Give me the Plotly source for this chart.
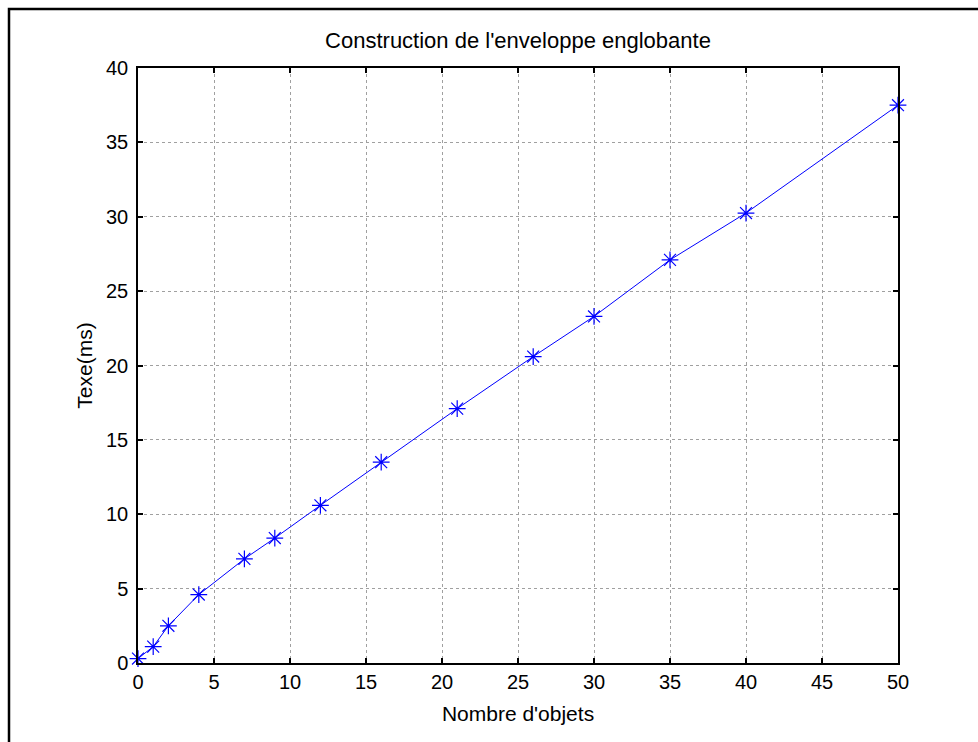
import plotly.graph_objects as go

# Nombre d'objets et temps d'exécution mesuré (ms)
nb_objets = [0, 1, 2, 4, 7, 9, 12, 16, 21, 26, 30, 35, 40, 50]
texe_ms = [0.3, 1.1, 2.5, 4.6, 7.0, 8.4, 10.6, 13.5, 17.1, 20.6, 23.3, 27.1, 30.25, 37.5]

x_ticks = [0, 5, 10, 15, 20, 25, 30, 35, 40, 45, 50]
y_ticks = [0, 5, 10, 15, 20, 25, 30, 35, 40]

FONT = "Liberation Sans, Arial, sans-serif"

fig = go.Figure()
fig.add_trace(go.Scatter(
    x=nb_objets, y=texe_ms,
    mode="lines+markers",
    line=dict(color="#0000ff", width=1),
    marker=dict(symbol="asterisk-open", size=14, color="#0000ff",
                line=dict(color="#0000ff", width=1.2)),
    cliponaxis=False,
    showlegend=False,
))

axis_common = dict(
    showline=True, linecolor="black", linewidth=1.5, mirror="allticks",
    ticks="inside", ticklen=5, tickcolor="black", tickwidth=1.5,
    showgrid=True, gridcolor="#a0a0a0", gridwidth=1, griddash="dot",
    zeroline=False,
    tickfont=dict(family=FONT, size=20, color="black"),
)

fig.update_xaxes(range=[0, 50], tickvals=x_ticks, ticklabelstandoff=0,
                 title=dict(text="Nombre d'objets", standoff=15,
                            font=dict(family=FONT, size=21, color="black")),
                 **axis_common)
fig.update_yaxes(range=[0, 40], tickvals=y_ticks, ticklabelstandoff=4,
                 title=dict(text="Texe(ms)", standoff=8,
                            font=dict(family=FONT, size=21, color="black")),
                 **axis_common)

# Cadre noir autour de la figure
fig.add_shape(type="rect", xref="paper", yref="paper",
              x0=(9 - 138) / 760, x1=1.2, y0=-0.2, y1=(663 - 9) / 595,
              line=dict(color="black", width=2.5), fillcolor="rgba(0,0,0,0)",
              layer="below")

fig.update_layout(
    width=978, height=742,
    margin=dict(l=138, r=80, t=68, b=79),
    paper_bgcolor="white", plot_bgcolor="white",
    title=dict(text="Construction de l'enveloppe englobante",
               x=(518 - 138) / 760, xref="paper", xanchor="center",
               y=1 - 40 / 742, yanchor="middle",
               font=dict(family=FONT, size=22, color="black")),
)

fig.write_html("out.html")
